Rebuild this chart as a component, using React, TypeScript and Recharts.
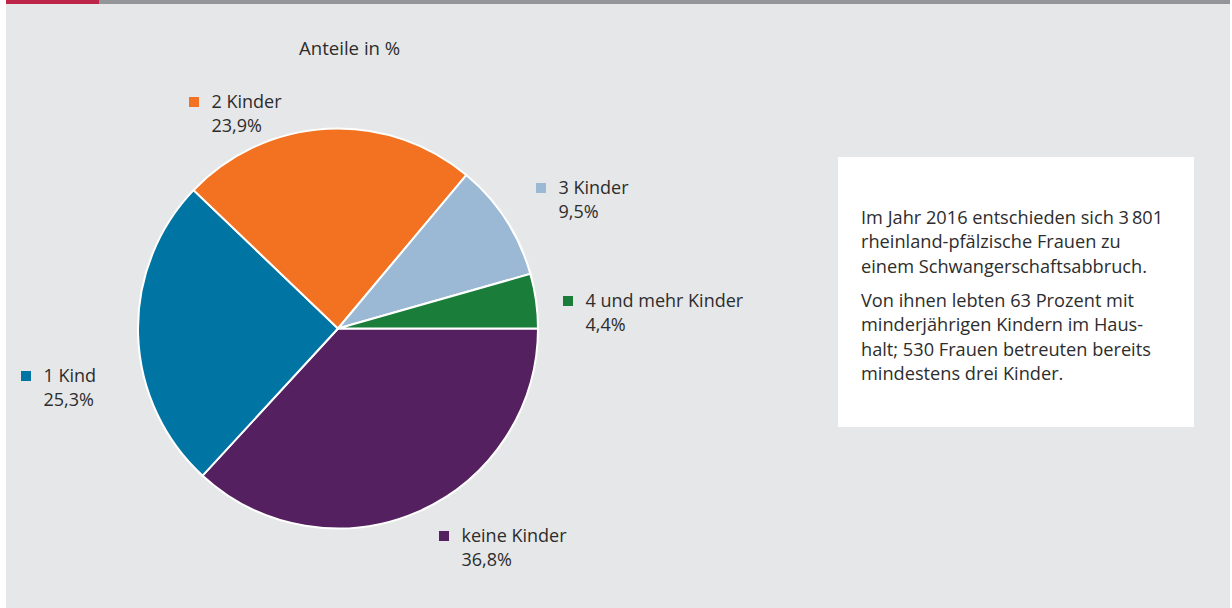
import { PieChart, Pie, Cell } from "recharts";

const categories = ["keine Kinder", "1 Kind", "2 Kinder", "3 Kinder", "4 und mehr Kinder"];
const shares = [36.8, 25.3, 23.9, 9.5, 4.4];
const colors = ["#55205f", "#0074a2", "#f37221", "#9bb9d5", "#1b7d3a"];

const noteParagraphs = [
  ["Im Jahr 2016 entschieden sich 3\u2009801", "rheinland-pfälzische Frauen zu", "einem Schwangerschaftsabbruch."],
  ["Von ihnen lebten 63 Prozent mit", "minderjährigen Kindern im Haus-", "halt; 530 Frauen betreuten bereits", "mindestens drei Kinder."],
];

const data = categories.map((name, i) => ({ name, value: shares[i] }));

// where each label sits, relative to the pie centre
const labelOffset: Record<string, { dx: number; dy: number }> = {
  "keine Kinder": { dx: 101, dy: 202.5 },
  "1 Kind": { dx: -317, dy: 42.5 },
  "2 Kinder": { dx: -149, dy: -231.5 },
  "3 Kinder": { dx: 198, dy: -145.5 },
  "4 und mehr Kinder": { dx: 225, dy: -32.5 },
};

const FONT = "'Open Sans', 'Noto Sans', sans-serif";
const TEXT = "#2d2d2d";

const fmt = (v: number) => v.toFixed(1).replace(".", ",") + "%";

const renderLabel = (props: any) => {
  const { cx, cy, index } = props;
  const name = categories[index];
  const off = labelOffset[name];
  const x = Number(cx) + off.dx;
  const y = Number(cy) + off.dy;
  return (
    <g key={name}>
      <rect x={x} y={y} width={10} height={10} fill={colors[index]} />
      <text x={x + 22.5} y={y + 11} fill={TEXT} fontSize={18} fontFamily={FONT}>
        {name}
      </text>
      <text x={x + 22.5} y={y + 34.5} fill={TEXT} fontSize={18} fontFamily={FONT}>
        {fmt(shares[index])}
      </text>
    </g>
  );
};

export default function App() {
  let line = 0;
  return (
    <div style={{ position: "absolute", left: 0, top: 0, width: 1232, height: 608, background: "#fff", overflow: "hidden" }}>
      <div style={{ position: "absolute", left: 6, top: 0, width: 1224, height: 608, background: "#e6e7e8" }} />
      <div style={{ position: "absolute", left: 6, top: 0, width: 93, height: 4, background: "#be2649" }} />
      <div style={{ position: "absolute", left: 99, top: 0, width: 1131, height: 4, background: "#939598" }} />
      <div style={{ position: "absolute", left: 0, top: 0 }}>
        <PieChart width={1232} height={608} margin={{ top: 0, right: 0, bottom: 0, left: 0 }}>
          <Pie
            data={data}
            dataKey="value"
            nameKey="name"
            cx={338}
            cy={328.5}
            outerRadius={200}
            startAngle={0}
            endAngle={-360}
            stroke="#ffffff"
            strokeWidth={2}
            label={renderLabel}
            labelLine={false}
            isAnimationActive={false}
          >
            {data.map((d, i) => (
              <Cell key={d.name} fill={colors[i]} />
            ))}
          </Pie>
        </PieChart>
      </div>
      <svg width={1232} height={608} style={{ position: "absolute", left: 0, top: 0, pointerEvents: "none" }}>
        <text x={299} y={55} fill={TEXT} fontSize={18.6} fontFamily={FONT}>
          Anteile in %
        </text>
        <rect x={838} y={157} width={356} height={270} fill="#ffffff" />
        {noteParagraphs.map((para, p) =>
          para.map((t, k) => {
            const y = 224 + line * 24.3 + p * 10;
            line += 1;
            return (
              <text key={`${p}-${k}`} x={861} y={y} fill={TEXT} fontSize={18.2} fontFamily={FONT}>
                {t}
              </text>
            );
          })
        )}
      </svg>
    </div>
  );
}
